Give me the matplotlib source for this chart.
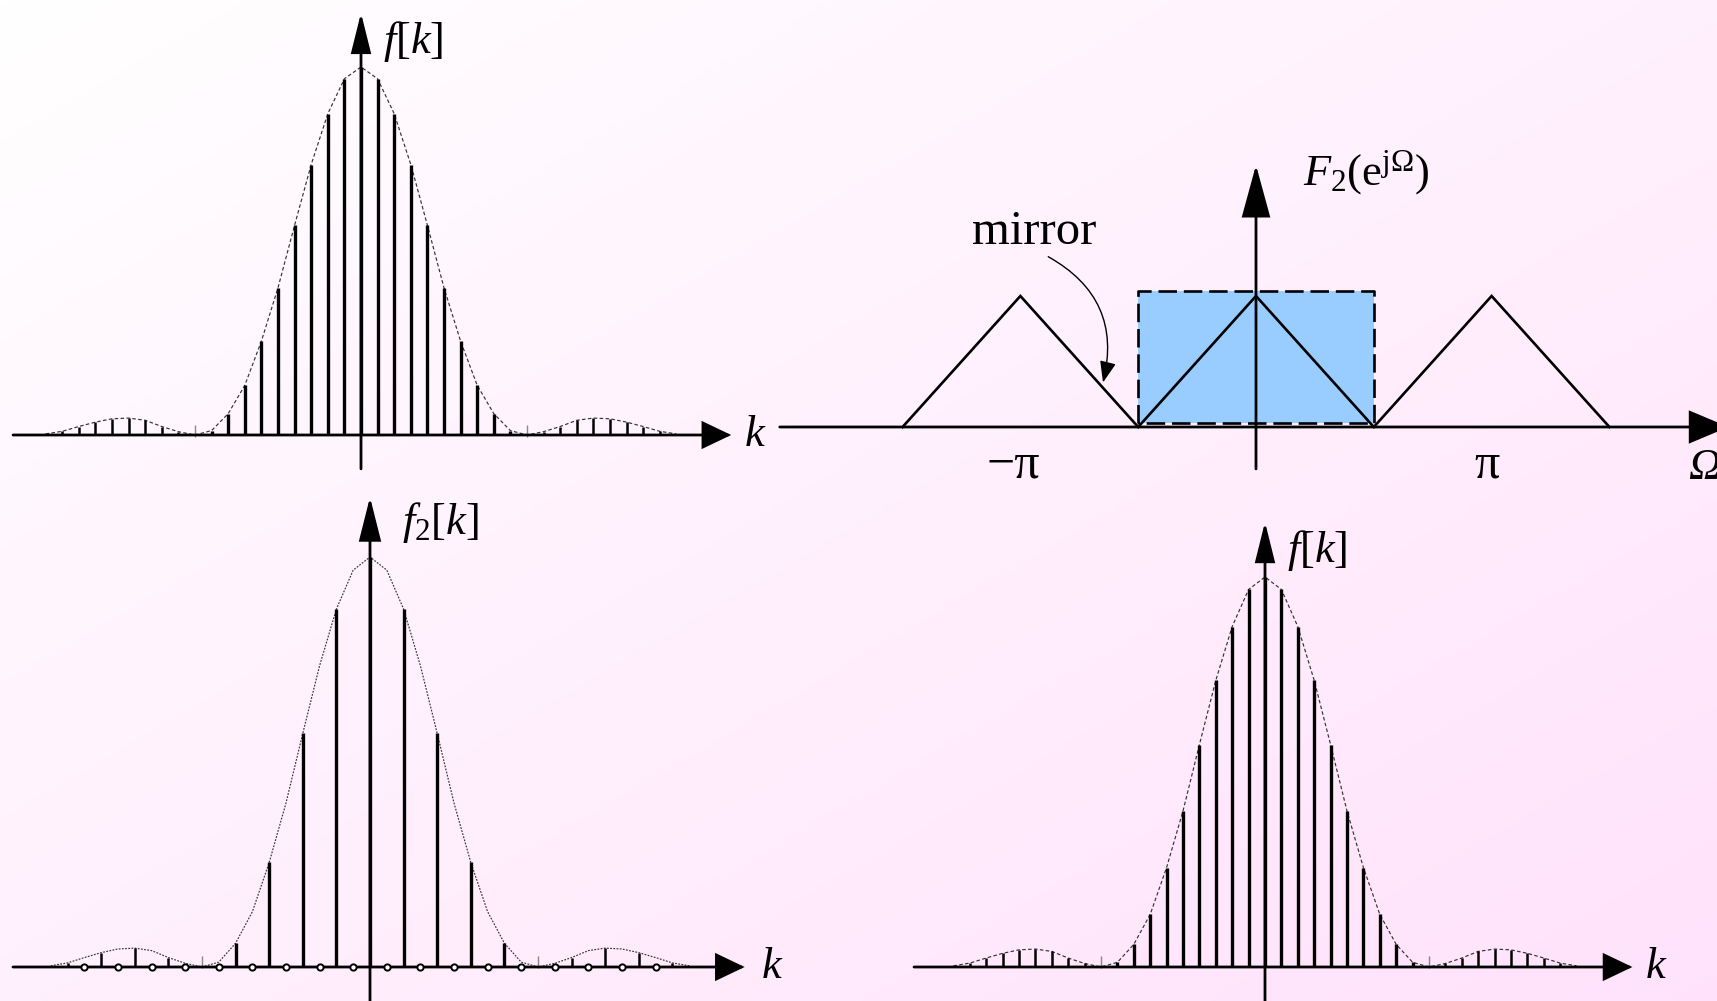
import numpy as np
import matplotlib.pyplot as plt

W, H = 1717, 1001
plt.rcParams['font.family'] = ['Liberation Serif', 'DejaVu Serif']
plt.rcParams['mathtext.fontset'] = 'custom'
plt.rcParams['mathtext.rm'] = 'Liberation Serif'
plt.rcParams['mathtext.it'] = 'Liberation Serif:italic'

# samples f[k], k = 0..19 (the sequence is even)
k_half = np.arange(0, 20)
f_half = [1.0, 0.968, 0.873, 0.735, 0.57, 0.40, 0.255, 0.135, 0.058, 0.012,
          0.0, 0.009, 0.023, 0.040, 0.046, 0.044, 0.035, 0.023, 0.010, 0.003]

k = np.concatenate([-k_half[:0:-1], k_half])
f = np.concatenate([f_half[:0:-1], f_half])

# decimated/zero-filled sequence: odd samples removed
f2 = np.where(k % 2 == 0, f, 0.0)

# spectrum of f2 (period pi) and the ideal low-pass used to recover f
omega = np.array([-1.5, -1.0, -0.5, 0.0, 0.5, 1.0, 1.5]) * np.pi
F2 = [0, 1, 0, 1, 0, 1, 0]
lp_edges = [-0.5 * np.pi, 0.5 * np.pi]
lp_gain = 1.04

fig = plt.figure(figsize=(W / 100, H / 100), dpi=100)

# soft white-to-pink background
bg = fig.add_axes([0, 0, 1, 1], zorder=-10)
yy, xx = np.mgrid[0:1:200j, 0:1:200j]
t = (xx + yy) / 2
white = np.array([1.0, 1.0, 1.0])
pink = np.array([1.0, 0.885, 0.985])
img = white[None, None, :] * (1 - t[..., None]) + pink[None, None, :] * t[..., None]
bg.imshow(img, extent=[0, 1, 0, 1], aspect='auto', origin='upper')
bg.axis('off')


def panel(x0, y0, sx, sy):
    # axes over the whole figure, origin at pixel (x0, y0) measured from top-left
    ax = fig.add_axes([0, 0, 1, 1])
    ax.set_xlim(-x0 / sx, (W - x0) / sx)
    ax.set_ylim((y0 - H) / sy, y0 / sy)
    ax.axis('off')
    ax.patch.set_alpha(0)
    return ax


def arrow(ax, start, end, hl, hw, lw=2.0):
    ax.annotate('', xy=end, xytext=start, annotation_clip=False,
                arrowprops=dict(arrowstyle=f'-|>,head_length={hl},head_width={hw}',
                                lw=lw, color='k', shrinkA=0, shrinkB=0,
                                mutation_scale=1, joinstyle='miter'))


def stems(ax, kk, vals, env, circles=False, env_style=(0, (3, 2))):
    kk = np.asarray(kk)
    vals = np.asarray(vals)
    ax.plot(kk, env, color='#333333', lw=0.85, ls=env_style, zorder=2)
    show = (np.abs(kk) <= 18) & (vals > 0)
    main = show & (np.abs(kk) < 10)
    side = show & (np.abs(kk) > 10)
    ax.vlines(kk[main], 0, vals[main], color='k', lw=2.4, zorder=3)
    ax.vlines(kk[side], 0, vals[side], color='k', lw=1.8, zorder=3)
    zero = np.abs(kk) == 10
    ax.plot(kk[zero], np.full(zero.sum(), 0.012), ls='none', marker='|',
            ms=8, color='#888888', mew=1.0, zorder=3)
    if circles:
        odd = (np.abs(kk) <= 18) & (kk % 2 != 0)
        ax.plot(kk[odd], np.zeros(odd.sum()), ls='none', marker='o', ms=4.5,
                mfc='white', mec='k', mew=1.4, zorder=4)


label_kw = dict(fontsize=32, va='center', ha='left')

# f[k], top left
ax1 = panel(361, 435, 16.6, 368)
stems(ax1, k, f, f)
arrow(ax1, (-20.96, 0), (22.3, 0), 18, 8.6)
arrow(ax1, (0, -0.092), (0, 1.147), 24.5, 6.1)
ax1.text(23.1, 0.0, '$k$', **label_kw)
ax1.text(1.33, 1.068, '$f[k]$', **label_kw)

# f2[k], bottom left
ax3 = panel(370, 967, 16.8, 410)
stems(ax3, k, f2, f, circles=True, env_style=(0, (1.5, 1.2)))
arrow(ax3, (-21.25, 0), (22.3, 0), 18, 8.6)
arrow(ax3, (0, -0.09), (0, 1.146), 27, 6.8)
ax3.text(23.3, 0.0, '$k$', **label_kw)
ax3.text(1.9, 1.085, '$f_2[k]$', **label_kw)

# recovered f[k], bottom right
ax4 = panel(1265, 967, 16.4, 390)
stems(ax4, k, f, f)
arrow(ax4, (-21.4, 0), (22.4, 0), 18, 8.6)
arrow(ax4, (0, -0.09), (0, 1.141), 24.5, 6.1)
ax4.text(23.2, 0.0, '$k$', **label_kw)
ax4.text(1.34, 1.067, '$f[k]$', **label_kw)

# spectrum F2(e^jW), top right
ax2 = panel(1256, 427, 75.0, 131.0)
ax2.fill_between(lp_edges, 0.03, lp_gain, color='#99CCFF', lw=0, zorder=1)
ax2.plot([lp_edges[0], lp_edges[0], lp_edges[1], lp_edges[1], lp_edges[0]],
         [0.03, lp_gain, lp_gain, 0.03, 0.03], color='k', lw=1.9,
         dashes=(7, 2.6), zorder=2)
ax2.plot(omega, F2, color='k', lw=1.9, zorder=3, solid_joinstyle='miter')
arrow(ax2, (-6.35, 0), (6.3, 0), 25, 10.5, lw=2.0)
arrow(ax2, (0, -0.32), (0, 2.0), 33, 9.0, lw=2.0)
ax2.text(-np.pi - 0.1, -0.29, '\u2212\u03c0', fontsize=36, ha='center', va='center')
ax2.text(np.pi - 0.06, -0.29, '\u03c0', fontsize=36, ha='center', va='center')
ax2.text(5.76, -0.31, '\u03a9', fontsize=32, style='italic', ha='left', va='center')
ax2.text(0.63, 1.94, r'$F_2(\mathrm{e}^{\mathrm{j}\mathit{\Omega}})$', **label_kw)
ax2.text(-3.79, 1.49, 'mirror', fontsize=35, ha='left', va='center')
ax2.annotate('', xy=(-2.04, 0.34), xytext=(-2.77, 1.3),
             arrowprops=dict(arrowstyle='-|>,head_length=13,head_width=5',
                             lw=1.0, color='k', shrinkA=0, shrinkB=0,
                             mutation_scale=1,
                             connectionstyle='arc3,rad=-0.38'))

fig.savefig('out.png', dpi=100)
